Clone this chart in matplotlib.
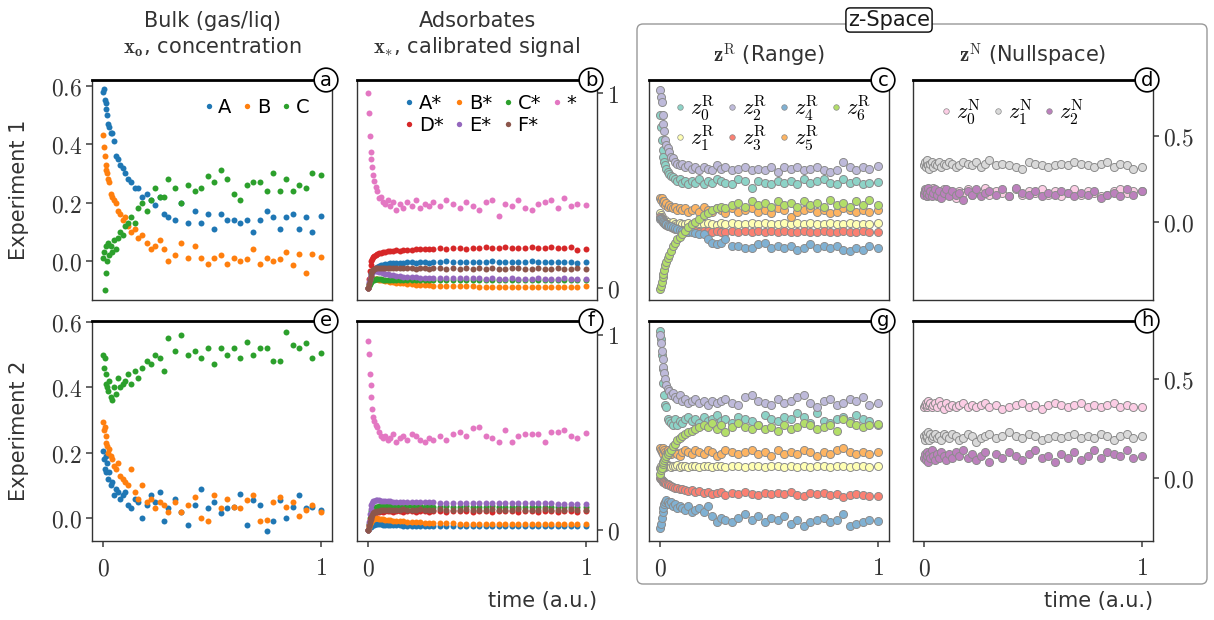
import matplotlib
matplotlib.use("Agg")
import matplotlib.pyplot as plt
from matplotlib.lines import Line2D
from matplotlib.patches import FancyBboxPatch

plt.rcParams["mathtext.fontset"] = "cm"
plt.rcParams["font.family"] = ["DejaVu Sans"]

# shared time grid (a.u.)
t = [0, .004, .008, .012, .016, .02, .025, .03, .035, .04, .05, .06, .07, .08, .09, .10,
     .115, .13, .145, .16, .18, .20, .22, .24, .26, .28, .30, .33, .36, .39, .42, .45, .48,
     .51, .54, .57, .60, .63, .66, .69, .72, .75, .78, .81, .84, .87, .90, .93, .96, 1.0]

# --- bulk, experiment 1 / 2
bulk1_A = [.58, .59, .55, .54, .52, .50, .47, .46, .44, .44, .41, .36, .35, .33, .32, .30, .28, .27, .25, .25,
           .22, .23, .21, .19, .22, .16, .15, .14, .20, .13, .17, .13, .16, .11, .16, .14, .14, .13, .14, .10,
           .14, .17, .15, .11, .15, .16, .11, .15, .10, .155]
bulk1_B = [.43, .39, .36, .33, .31, .30, .28, .27, .23, .22, .21, .20, .17, .16, .14, .15, .12, .10, .11, .08,
           .09, .06, .04, .05, .07, .04, .00, .02, .06, .01, .05, .01, -.01, .01, .02, -.01, .01, .00, .005, .04,
           -.01, .01, .00, .005, .03, -.015, .025, -.04, .025, .015]
bulk1_C = [.01, .03, -.10, .05, -.04, .00, .06, .02, .05, .03, .07, .04, .08, .10, .09, .12, .13, .15, .13, .18,
           .20, .17, .21, .25, .22, .22, .28, .25, .20, .26, .24, .25, .29, .27, .31, .28, .23, .21, .26, .27,
           .27, .24, .30, .24, .28, .24, .26, .25, .30, .295]
bulk2_A = [.205, .18, .15, .19, .14, .17, .12, .14, .10, .11, .07, .09, .08, .06, .07, .08, .04, .03, .06, .05,
           .00, .04, .07, .05, .08, -.01, .03, .06, .02, -.02, .04, .09, .03, .05, .015, .03, .035, .075, -.02, .055,
           .04, -.04, -.01, .055, .00, .035, .07, .03, .035, .025]
bulk2_B = [.295, .27, .28, .25, .23, .22, .20, .21, .19, .18, .16, .15, .17, .13, .12, .11, .10, .15, .08, .06,
           .10, .05, .06, .03, .05, .04, .02, .05, .02, .04, .065, .00, -.01, .07, .03, .06, .035, .03, .055, .07,
           -.01, -.005, .05, .065, .035, .05, .005, .025, .04, .02]
bulk2_C = [.50, .46, .49, .44, .41, .40, .39, .42, .37, .36, .40, .38, .43, .40, .41, .42, .44, .41, .45, .43,
           .46, .48, .47, .50, .49, .45, .55, .51, .56, .50, .51, .49, .52, .47, .52, .50, .52, .49, .54, .50,
           .52, .52, .48, .48, .57, .53, .52, .535, .49, .505]

# --- adsorbates, experiment 1
ads1_star = [1.00, .90, .78, .70, .66, .62, .58, .55, .52, .50, .46, .47, .44, .43, .45, .42, .44, .40, .43, .41,
             .44, .42, .45, .41, .43, .42, .44, .42, .45, .43, .41, .44, .42, .40, .44, .45, .37, .43, .42, .45,
             .41, .40, .43, .44, .45, .41, .46, .42, .43, .425]
ads1_A = [.00, .02, .04, .06, .075, .085, .095, .10, .105, .11, .115, .12, .12, .125, .125, .13, .128, .13, .132, .13,
          .133, .135, .13, .135, .137, .132, .136, .134, .138, .135, .133, .137, .135, .136, .134, .138, .135, .137, .134, .136,
          .135, .138, .136, .134, .137, .135, .136, .133, .13, .133]
ads1_B = [.00, .015, .025, .035, .04, .045, .048, .05, .05, .048, .045, .042, .04, .038, .035, .034, .031, .029, .027, .025,
          .023, .021, .019, .018, .016, .015, .014, .013, .012, .011, .011, .010, .010, .009, .009, .009, .008, .008, .008, .008,
          .007, .008, .007, .007, .008, .007, .007, .008, .007, .010]
ads1_C = [.00, .01, .02, .03, .035, .04, .042, .045, .046, .047, .048, .046, .045, .044, .045, .043, .044, .042, .043, .044,
          .042, .043, .041, .042, .043, .042, .041, .043, .042, .040, .042, .041, .043, .042, .041, .042, .043, .041, .042, .043,
          .042, .041, .043, .042, .044, .042, .041, .043, .042, .043]
ads1_D = [.00, .05, .09, .12, .14, .15, .16, .165, .17, .175, .18, .183, .186, .188, .19, .19, .192, .195, .193, .196,
          .198, .197, .20, .199, .202, .20, .203, .205, .202, .207, .204, .20, .208, .205, .21, .207, .206, .209, .205, .208,
          .206, .21, .207, .205, .209, .206, .208, .21, .198, .202]
ads1_E = [.00, .03, .05, .065, .075, .082, .086, .088, .088, .087, .085, .082, .078, .075, .072, .07, .067, .065, .062, .06,
          .058, .057, .056, .055, .055, .054, .053, .053, .052, .052, .051, .052, .051, .051, .050, .051, .050, .050, .051, .050,
          .049, .050, .051, .050, .049, .050, .051, .050, .049, .050]
ads1_F = [.00, .02, .045, .065, .08, .09, .095, .10, .102, .104, .105, .106, .105, .104, .105, .103, .104, .102, .103, .104,
          .102, .103, .101, .102, .103, .101, .102, .103, .101, .102, .100, .102, .101, .103, .101, .102, .100, .101, .102, .103,
          .101, .100, .102, .101, .100, .102, .101, .100, .102, .101]

# --- adsorbates, experiment 2
ads2_star = [.97, .90, .80, .74, .68, .62, .58, .56, .54, .53, .50, .48, .47, .48, .46, .47, .49, .45, .47, .48,
             .46, .49, .48, .46, .45, .47, .46, .48, .46, .49, .50, .48, .52, .53, .48, .47, .45, .51, .45, .48,
             .49, .49, .49, .45, .50, .50, .51, .48, .47, .495]
ads2_A = [.00, .008, .014, .018, .021, .024, .026, .028, .029, .03, .03, .029, .028, .027, .026, .025, .025, .024, .024, .023,
          .023, .022, .023, .022, .022, .021, .022, .022, .021, .022, .022, .021, .022, .023, .022, .021, .022, .022, .021, .022,
          .023, .022, .021, .022, .022, .021, .022, .023, .022, .021]
ads2_B = [.00, .015, .03, .04, .048, .053, .057, .059, .06, .06, .059, .057, .055, .053, .052, .05, .048, .046, .045, .044,
          .042, .041, .04, .039, .038, .037, .036, .035, .034, .034, .033, .033, .032, .032, .032, .031, .031, .031, .030, .031,
          .030, .030, .031, .030, .030, .031, .030, .030, .031, .030]
ads2_C = [.00, .03, .06, .08, .095, .105, .11, .115, .118, .12, .122, .123, .122, .123, .121, .122, .123, .121, .122, .12,
          .121, .122, .12, .121, .12, .121, .119, .12, .121, .119, .12, .121, .12, .119, .12, .121, .119, .12, .118, .12,
          .119, .12, .118, .119, .12, .118, .119, .12, .118, .119]
ads2_D = [.00, .025, .05, .065, .075, .082, .087, .09, .092, .093, .094, .095, .094, .095, .096, .095, .094, .096, .095, .094,
          .096, .095, .094, .096, .095, .094, .095, .096, .094, .095, .096, .095, .094, .095, .096, .094, .095, .096, .095, .094,
          .096, .095, .094, .095, .096, .094, .095, .096, .094, .095]
ads2_E = [.00, .04, .08, .11, .13, .14, .147, .15, .152, .153, .152, .151, .15, .149, .148, .147, .146, .146, .145, .145,
          .144, .144, .143, .143, .142, .142, .142, .141, .141, .141, .14, .14, .14, .139, .139, .139, .138, .138, .138, .137,
          .137, .137, .136, .136, .136, .135, .135, .135, .134, .134]
ads2_F = [.00, .02, .04, .055, .068, .078, .085, .09, .094, .097, .1, .102, .103, .104, .104, .105, .105, .104, .105, .106,
          .105, .104, .105, .106, .105, .104, .105, .106, .105, .104, .105, .106, .105, .104, .105, .106, .105, .104, .105, .106,
          .105, .104, .105, .106, .105, .104, .105, .106, .105, .104]

# --- z-space, range, experiment 1
zr1_0 = [.62, .55, .48, .42, .38, .35, .33, .31, .29, .28, .27, .26, .25, .24, .25, .23, .24, .22, .24, .23,
         .25, .22, .24, .23, .25, .24, .23, .22, .25, .24, .20, .24, .23, .22, .24, .23, .24, .22, .25, .23,
         .24, .25, .23, .22, .25, .23, .24, .22, .23, .235]
zr1_1 = [.05, .04, .03, .02, .01, .00, .01, -.01, .00, -.01, -.005, .00, -.01, -.015, -.005, -.01, -.012, -.005, -.01, -.015,
         -.008, -.012, -.005, -.01, -.015, -.008, -.01, -.005, -.012, -.01, -.006, -.012, -.008, -.01, -.014, -.005, -.01, -.008, -.012, -.006,
         -.01, -.012, -.007, -.01, -.012, -.005, -.01, -.009, -.012, -.008]
zr1_2 = [.77, .73, .70, .62, .57, .53, .48, .45, .43, .41, .38, .37, .35, .34, .33, .34, .32, .33, .31, .32,
         .30, .32, .31, .30, .33, .31, .32, .30, .31, .32, .30, .31, .30, .32, .29, .32, .31, .32, .30, .31,
         .32, .30, .29, .30, .35, .32, .30, .32, .31, .325]
zr1_3 = [.03, .025, .02, .01, .00, -.005, -.01, -.015, -.02, -.025, -.03, -.035, -.04, -.042, -.045, -.045, -.05, -.048, -.052, -.05,
         -.055, -.05, -.053, -.056, -.05, -.055, -.058, -.052, -.055, -.05, -.057, -.054, -.06, -.052, -.056, -.05, -.055, -.058, -.053, -.056,
         -.06, -.052, -.055, -.057, -.053, -.06, -.055, -.052, -.058, -.056]
zr1_4 = [.02, .015, .01, .005, .00, -.005, -.01, -.01, -.015, -.02, -.025, -.03, -.035, -.04, -.045, -.05, -.055, -.06, -.06, -.065,
         -.07, -.07, -.10, -.12, -.13, -.12, -.10, -.14, -.14, -.15, -.15, -.13, -.12, -.15, -.14, -.15, -.14, -.16, -.15, -.13,
         -.15, -.14, -.15, -.14, -.16, -.17, -.15, -.16, -.14, -.15]
zr1_5 = [.14, .13, .14, .12, .11, .12, .10, .11, .09, .10, .09, .08, .09, .07, .08, .07, .08, .06, .07, .08,
         .06, .09, .07, .06, .08, .07, .05, .08, .06, .07, .08, .06, .07, .05, .08, .07, .03, .06, .07, .08,
         .06, .07, .05, .06, .08, .07, .06, .07, .06, .07]
zr1_6 = [-.39, -.37, -.35, -.32, -.30, -.28, -.25, -.23, -.21, -.19, -.17, -.14, -.12, -.10, -.085, -.07, -.05, -.03, -.01, .00,
         .02, .04, .05, .07, .08, .09, .08, .10, .11, .09, .12, .10, .11, .09, .12, .10, .11, .09, .12, .10,
         .11, .09, .13, .10, .11, .09, .12, .10, .13, .10]

# --- z-space, nullspace, experiment 1
zn1_0 = [.17, .19, .16, .18, .15, .19, .17, .16, .18, .20, .17, .15, .18, .16, .19, .17, .18, .16, .14, .18,
         .17, .19, .16, .18, .17, .20, .16, .18, .17, .15, .19, .16, .18, .17, .19, .16, .18, .15, .17, .19,
         .16, .18, .17, .15, .16, .18, .19, .17, .18, .18]
zn1_1 = [.33, .35, .32, .34, .36, .33, .31, .34, .35, .32, .34, .33, .35, .32, .34, .33, .35, .34, .32, .33,
         .35, .34, .33, .35, .32, .34, .36, .33, .34, .33, .32, .31, .35, .34, .33, .32, .33, .34, .33, .35,
         .34, .33, .32, .34, .35, .32, .34, .33, .31, .32]
zn1_2 = [.16, .18, .19, .15, .17, .20, .16, .18, .15, .17, .19, .16, .18, .14, .17, .19, .15, .18, .16, .17,
         .13, .18, .16, .19, .15, .17, .18, .16, .19, .15, .20, .17, .16, .18, .15, .17, .16, .18, .17, .15,
         .17, .16, .18, .14, .16, .17, .15, .19, .16, .18]

# --- z-space, range, experiment 2
zr2_0 = [.74, .70, .62, .55, .48, .42, .37, .36, .30, .29, .28, .27, .30, .27, .29, .28, .30, .31, .29, .30,
         .28, .31, .29, .30, .32, .29, .30, .28, .31, .30, .29, .27, .32, .30, .29, .31, .30, .33, .31, .28,
         .33, .29, .28, .30, .31, .29, .32, .30, .29, .27]
zr2_1 = [.05, .06, .055, .06, .065, .06, .055, .06, .065, .06, .058, .062, .06, .065, .058, .06, .063, .057, .06, .064,
         .058, .06, .062, .056, .06, .063, .058, .061, .06, .057, .062, .06, .058, .063, .06, .056, .061, .059, .064, .058,
         .06, .062, .057, .06, .063, .059, .061, .06, .058, .06]
zr2_2 = [.72, .68, .64, .60, .56, .53, .50, .47, .45, .44, .42, .43, .41, .40, .42, .39, .40, .38, .39, .40,
         .38, .39, .37, .39, .38, .39, .40, .38, .37, .41, .42, .39, .38, .37, .40, .38, .39, .41, .42, .38,
         .36, .39, .40, .37, .38, .40, .39, .41, .37, .38]
zr2_3 = [.00, -.005, -.01, -.015, -.02, -.02, -.025, -.03, -.03, -.035, -.04, -.045, -.05, -.05, -.055, -.055, -.06, -.065, -.06, -.07,
         -.065, -.075, -.07, -.08, -.075, -.07, -.085, -.075, -.08, -.07, -.08, -.085, -.075, -.08, -.075, -.08, -.07, -.085, -.09, -.075,
         -.08, -.075, -.085, -.08, -.095, -.085, -.08, -.085, -.09, -.088]
zr2_4 = [-.25, -.23, -.20, -.17, -.15, -.13, -.12, -.11, -.12, -.13, -.12, -.14, -.13, -.15, -.14, -.15, -.16, -.14, -.17, -.16,
         -.15, -.17, -.14, -.19, -.22, -.20, -.21, -.22, -.20, -.18, -.21, -.19, -.22, -.20, -.21, -.19, -.23, -.21, -.24, -.22,
         -.21, -.20, -.22, -.21, -.18, -.24, -.23, -.22, -.21, -.215]
zr2_5 = [.15, .14, .13, .15, .12, .14, .13, .12, .14, .13, .12, .14, .13, .12, .11, .13, .14, .13, .12, .14,
         .13, .12, .14, .13, .11, .12, .14, .13, .12, .13, .14, .12, .13, .11, .14, .12, .13, .12, .14, .13,
         .11, .13, .12, .14, .15, .13, .12, .13, .12, .13]
zr2_6 = [.02, .04, .05, .07, .08, .09, .10, .11, .12, .13, .14, .16, .17, .19, .20, .21, .22, .23, .24, .25,
         .26, .27, .26, .28, .25, .27, .23, .26, .28, .26, .25, .27, .25, .26, .24, .27, .25, .26, .28, .27,
         .25, .26, .27, .24, .30, .28, .27, .26, .27, .275]

# --- z-space, nullspace, experiment 2
zn2_0 = [.36, .37, .38, .36, .37, .39, .37, .38, .36, .37, .38, .36, .39, .37, .35, .38, .36, .37, .36, .37,
         .38, .36, .37, .36, .37, .38, .36, .37, .35, .36, .37, .38, .36, .37, .35, .37, .38, .37, .36, .37,
         .38, .36, .37, .36, .37, .38, .36, .37, .36, .36]
zn2_1 = [.21, .19, .22, .20, .21, .23, .19, .22, .20, .21, .22, .20, .21, .19, .22, .21, .20, .22, .21, .19,
         .20, .22, .21, .18, .20, .21, .22, .20, .21, .23, .21, .20, .22, .21, .19, .20, .21, .20, .21, .22,
         .20, .21, .20, .22, .21, .19, .21, .22, .20, .21]
zn2_2 = [.10, .12, .09, .13, .11, .08, .12, .10, .14, .11, .09, .12, .10, .13, .11, .09, .12, .10, .13, .11,
         .14, .10, .12, .09, .11, .13, .08, .12, .10, .13, .11, .09, .12, .14, .10, .11, .08, .12, .10, .13,
         .09, .11, .14, .10, .13, .12, .11, .14, .10, .11]

bulk_labels = ["A", "B", "C"]
ads_labels = ["A*", "B*", "C*", "D*", "E*", "F*", "*"]
tab = ["tab:blue", "tab:orange", "tab:green", "tab:red", "tab:purple", "tab:brown", "tab:pink"]
set3 = ["#8dd3c7", "#ffffb3", "#bebada", "#fb8072", "#80b1d3", "#fdb462", "#b3de69"]
null_cols = ["#fccde5", "#d9d9d9", "#bc80bd"]

W, H = 1214, 620
fig = plt.figure(figsize=(W / 100, H / 100), dpi=100)


def add_ax(left, top):
    return fig.add_axes([left / W, 1 - (top + 220) / H, 240 / W, 220 / H])


def style(ax, letter, bottom_row, yside):
    for s in ax.spines.values():
        s.set_color("0.2")
        s.set_linewidth(1.0)
    ax.spines["top"].set_color("k")
    ax.spines["top"].set_linewidth(2.0)
    ax.set_xlim(-0.05, 1.05)
    ax.tick_params(direction="out", length=4, width=1.2, color="0.3",
                   labelsize=17, labelcolor="0.2", pad=3)
    ax.tick_params(axis="x", pad=7)
    if bottom_row:
        ax.set_xticks([0, 1])
        ax.set_xticklabels(["$0$", "$1$"])
    else:
        ax.set_xticks([])
    if yside == "none":
        ax.set_yticks([])
    elif yside == "right":
        ax.yaxis.tick_right()
    ax.text(1 - 6 / 240, 1.0, letter, transform=ax.transAxes, ha="center", va="center",
            fontsize=14, zorder=20, clip_on=False,
            bbox=dict(boxstyle="circle,pad=0.12", fc="w", ec="k", lw=1.2))


cols = [92, 357, 649, 913]
rows = [80, 321]

bulk = [[bulk1_A, bulk1_B, bulk1_C], [bulk2_A, bulk2_B, bulk2_C]]
ads = [[ads1_A, ads1_B, ads1_C, ads1_D, ads1_E, ads1_F, ads1_star],
       [ads2_A, ads2_B, ads2_C, ads2_D, ads2_E, ads2_F, ads2_star]]
zr = [[zr1_0, zr1_1, zr1_2, zr1_3, zr1_4, zr1_5, zr1_6],
      [zr2_0, zr2_1, zr2_2, zr2_3, zr2_4, zr2_5, zr2_6]]
zn = [[zn1_0, zn1_1, zn1_2], [zn2_0, zn2_1, zn2_2]]

letters = [["a", "b", "c", "d"], ["e", "f", "g", "h"]]
bulk_ylim = [(-0.134, 0.62), (-0.07, 0.603)]
ads_ylim = [(-0.06, 1.067), (-0.056, 1.07)]
z_ylim = [(-0.453, 0.826), (-0.315, 0.79)]

for r in range(2):
    top = rows[r]
    bot = r == 1

    # bulk
    ax = add_ax(cols[0], top)
    for y, lab, c in zip(bulk[r], bulk_labels, tab):
        ax.plot(t, y, "o", ms=4.3, mec="none", color=c, label=lab)
    ax.set_ylim(*bulk_ylim[r])
    ax.set_yticks([0, 0.2, 0.4, 0.6])
    ax.set_yticklabels(["$0.0$", "$0.2$", "$0.4$", "$0.6$"])
    style(ax, letters[r][0], bot, "left")
    if r == 0:
        ax.legend(loc="upper right", ncol=3, frameon=False, fontsize=14, handlelength=0.6,
                  handletextpad=0.2, columnspacing=0.5, borderaxespad=0.4, markerscale=0.9,
                  bbox_to_anchor=(0.97, 0.99))

    # adsorbates
    ax = add_ax(cols[1], top)
    lines = []
    for y, lab, c in zip(ads[r], ads_labels, tab):
        lines.append(ax.plot(t, y, "o", ms=4.3, mec="none", color=c, label=lab)[0])
    ax.set_ylim(*ads_ylim[r])
    ax.set_yticks([0, 1])
    ax.set_yticklabels(["$0$", "$1$"])
    style(ax, letters[r][1], bot, "right")
    if r == 0:
        order = [0, 3, 1, 4, 2, 5, 6]
        ax.legend([lines[i] for i in order], [ads_labels[i] for i in order], loc="upper right",
                  ncol=4, frameon=False, fontsize=14, handlelength=0.6, handletextpad=0.2,
                  columnspacing=0.5, borderaxespad=0.3, labelspacing=0.15, markerscale=0.9,
                  bbox_to_anchor=(0.97, 1.0))
    else:
        ax.set_xlabel("time (a.u.)", fontsize=15, color="0.2", loc="right", labelpad=8)

    # z range
    ax = add_ax(cols[2], top)
    for y, c in zip(zr[r], set3):
        ax.plot(t, y, "o", ms=5.8, mfc=c, mec="0.55", mew=0.7)
    ax.set_ylim(*z_ylim[r])
    style(ax, letters[r][2], bot, "none")
    if r == 0:
        hs = [Line2D([], [], ls="", marker="o", ms=4, mfc=c, mec="0.55", mew=0.5) for c in set3]
        ax.legend(hs, ["$z_{%d}^{\\mathrm{R}}$" % i for i in range(7)], loc="upper right",
                  ncol=4, frameon=False, fontsize=16, handlelength=0.5, handletextpad=0.2,
                  columnspacing=0.5, borderaxespad=0.2, labelspacing=0.0,
                  bbox_to_anchor=(0.98, 1.0))

    # z nullspace
    ax = add_ax(cols[3], top)
    for y, c in zip(zn[r], null_cols):
        ax.plot(t, y, "o", ms=5.8, mfc=c, mec="0.55", mew=0.7)
    ax.set_ylim(*z_ylim[r])
    ax.set_yticks([0, 0.5])
    ax.set_yticklabels(["$0.0$", "$0.5$"])
    style(ax, letters[r][3], bot, "right")
    if r == 0:
        hs = [Line2D([], [], ls="", marker="o", ms=4, mfc=c, mec="0.55", mew=0.5) for c in null_cols]
        ax.legend(hs, ["$z_{%d}^{\\mathrm{N}}$" % i for i in range(3)], loc="upper left",
                  ncol=3, frameon=False, fontsize=16, handlelength=0.5, handletextpad=0.2,
                  columnspacing=0.5, borderaxespad=0.3, bbox_to_anchor=(0.05, 0.99))
    else:
        ax.set_xlabel("time (a.u.)", fontsize=15, color="0.2", loc="right", labelpad=8)

# column titles
fig.text(212 / W, 1 - 21 / H, "Bulk (gas/liq)", ha="center", va="center", fontsize=15, color="0.2")
fig.text(212 / W, 1 - 47 / H, r"$\mathbf{x_o}$, concentration", ha="center", va="center",
         fontsize=15, color="0.2")
fig.text(477 / W, 1 - 21 / H, "Adsorbates", ha="center", va="center", fontsize=15, color="0.2")
fig.text(477 / W, 1 - 47 / H, r"$\mathbf{x}_{*}$, calibrated signal", ha="center", va="center",
         fontsize=15, color="0.2")
fig.text(769 / W, 1 - 56 / H, r"$\mathbf{z}^{\mathrm{R}}$ (Range)", ha="center", va="center",
         fontsize=15, color="0.2")
fig.text(1033 / W, 1 - 56 / H, r"$\mathbf{z}^{\mathrm{N}}$ (Nullspace)", ha="center", va="center",
         fontsize=15, color="0.2")

# row labels
fig.text(19 / W, 1 - 190 / H, "Experiment 1", rotation=90, ha="center", va="center",
         fontsize=15, color="0.2")
fig.text(19 / W, 1 - 431 / H, "Experiment 2", rotation=90, ha="center", va="center",
         fontsize=15, color="0.2")

# z-Space frame
frame = FancyBboxPatch((6.37, 0.36), 5.70, 5.60, boxstyle="round,pad=0,rounding_size=0.06",
                       transform=fig.dpi_scale_trans, fc="none", ec="0.6", lw=1.0)
fig.patches.append(frame)
fig.text(889 / W, 1 - 20 / H, "z-Space", ha="center", va="center", fontsize=15, color="0.1",
         bbox=dict(boxstyle="round,pad=0.1,rounding_size=0.2", fc="w", ec="k", lw=1.0))

fig.savefig("out.png", dpi=100)
